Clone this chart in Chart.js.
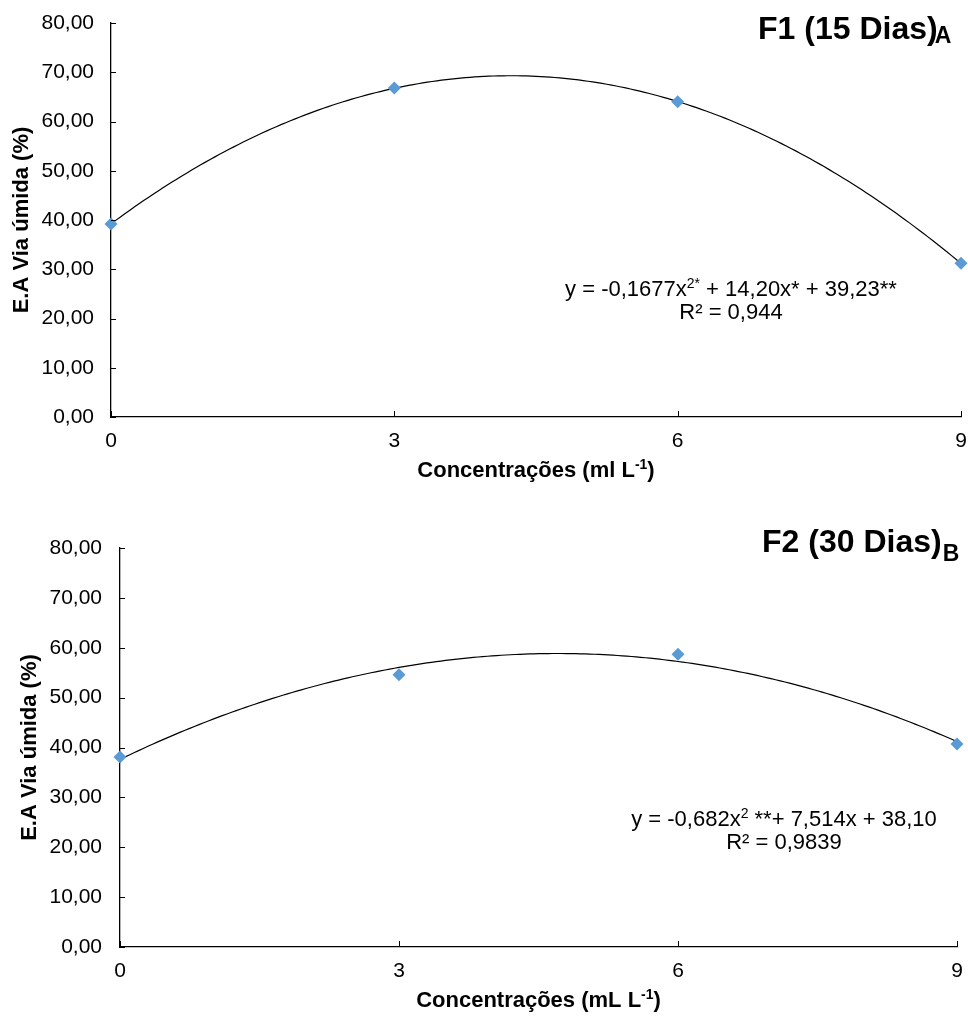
<!DOCTYPE html>
<html>
<head>
<meta charset="utf-8">
<script src="https://cdn.jsdelivr.net/npm/chart.js@4.4.1/dist/chart.umd.min.js"></script>
<style>
  html, body { margin: 0; padding: 0; background: #fff; }
  .panel { position: relative; width: 968px; }
  canvas { display: block; }
</style>
</head>
<body>
<div class="panel" style="height:500px"><canvas id="f1" width="968" height="500"></canvas></div>
<div class="panel" style="height:517px"><canvas id="f2" width="968" height="517"></canvas></div>
<script>
// Concentrations (ml L-1) and measured values for each evaluation
const concentrations = [0, 3, 6, 9];
const f1Values = [39.2, 66.8, 64.0, 31.2];   // F1 (15 Dias)
const f2Values = [38.1, 54.6, 58.7, 40.7];   // F2 (30 Dias)
const yTickValues = [0, 10, 20, 30, 40, 50, 60, 70, 80];
const xTickValues = [0, 3, 6, 9];

const FONT = "'Liberation Sans', Arial, sans-serif";
const MARKER = '#5b9bd5';

// Least-squares second-degree polynomial through the measured points
function quadFit(xs, ys) {
  let s0 = xs.length, s1 = 0, s2 = 0, s3 = 0, s4 = 0, t0 = 0, t1 = 0, t2 = 0;
  xs.forEach((x, i) => {
    const y = ys[i];
    s1 += x; s2 += x * x; s3 += x ** 3; s4 += x ** 4;
    t0 += y; t1 += x * y; t2 += x * x * y;
  });
  const M = [[s4, s3, s2, t2], [s3, s2, s1, t1], [s2, s1, s0, t0]];
  for (let c = 0; c < 3; c++) {
    for (let r = c + 1; r < 3; r++) {
      const f = M[r][c] / M[c][c];
      for (let k = c; k < 4; k++) M[r][k] -= f * M[c][k];
    }
  }
  const sol = [0, 0, 0];
  for (let r = 2; r >= 0; r--) {
    let v = M[r][3];
    for (let k = r + 1; k < 3; k++) v -= M[r][k] * sol[k];
    sol[r] = v / M[r][r];
  }
  return sol; // a, b, c
}

function trendPoints(xs, ys) {
  const [a, b, c] = quadFit(xs, ys);
  const pts = [];
  const lo = Math.min(...xs), hi = Math.max(...xs);
  for (let i = 0; i <= 180; i++) {
    const x = lo + (hi - lo) * i / 180;
    pts.push({ x, y: a * x * x + b * x + c });
  }
  return pts;
}

// Draws a line of text made of runs; run.sup / run.sub shift and shrink it
function drawRuns(ctx, runs, x, y, align, size, bold) {
  const fontFor = r => `${bold ? 'bold ' : ''}${r.sup || r.sub ? Math.round(size * (r.scale || 0.62)) : size}px ${FONT}`;
  let total = 0;
  runs.forEach(r => { ctx.font = fontFor(r); total += ctx.measureText(r.t).width + (r.dx || 0); });
  let cx = align === 'center' ? x - total / 2 : (align === 'right' ? x - total : x);
  ctx.textAlign = 'left';
  ctx.textBaseline = 'alphabetic';
  runs.forEach(r => {
    ctx.font = fontFor(r);
    cx += (r.dx || 0);
    const dy = r.sup ? -size * 0.38 : (r.sub ? size * (r.subDy || 0.22) : 0);
    ctx.fillText(r.t, cx, y + dy);
    cx += ctx.measureText(r.t).width;
  });
}

function makeChart(id, values, cfg) {
  const annotate = {
    id: 'annotate' + id,
    afterDraw(chart) {
      const ctx = chart.ctx;
      const xs = chart.scales.x, ys = chart.scales.y;
      ctx.save();
      ctx.strokeStyle = '#000';
      ctx.lineWidth = 1;
      // inner tick marks
      yTickValues.forEach(v => {
        const py = Math.round(ys.getPixelForValue(v)) + 0.5;
        ctx.beginPath(); ctx.moveTo(xs.left, py); ctx.lineTo(xs.left + 5, py); ctx.stroke();
      });
      xTickValues.forEach(v => {
        const px = Math.round(xs.getPixelForValue(v)) + 0.5;
        ctx.beginPath(); ctx.moveTo(px, ys.bottom); ctx.lineTo(px, ys.bottom - 6); ctx.stroke();
      });
      ctx.fillStyle = '#000';
      // y axis title
      ctx.save();
      ctx.translate(cfg.yTitleX, (ys.top + ys.bottom) / 2);
      ctx.rotate(-Math.PI / 2);
      ctx.font = `bold 22px ${FONT}`;
      ctx.textAlign = 'center';
      ctx.textBaseline = 'middle';
      ctx.fillText('E.A Via úmida (%)', 0, 0);
      ctx.restore();
      // x axis title
      drawRuns(ctx, cfg.xTitle, (xs.left + xs.right) / 2, ys.bottom + cfg.xTitleDy, 'center', 22, true);
      // panel title
      drawRuns(ctx, cfg.title, cfg.titleX, cfg.titleY, 'left', 32, true);
      // regression equation and R²
      drawRuns(ctx, cfg.eq, cfg.eqX, cfg.eqY, 'center', 22, false);
      drawRuns(ctx, cfg.r2, cfg.eqX, cfg.eqY + 23, 'center', 22, false);
      ctx.restore();
    }
  };

  return new Chart(document.getElementById(id), {
    type: 'scatter',
    data: {
      datasets: [
        {
          type: 'line',
          data: trendPoints(concentrations, values),
          borderColor: '#000',
          borderWidth: 1.2,
          pointRadius: 0,
          tension: 0,
          fill: false,
          clip: false,
          order: 2
        },
        {
          data: concentrations.map((x, i) => ({ x, y: values[i] })),
          pointStyle: 'rectRot',
          pointRadius: 6.5,
          backgroundColor: MARKER,
          borderColor: MARKER,
          borderWidth: 0,
          clip: false,
          order: 1
        }
      ]
    },
    options: {
      responsive: false,
      animation: false,
      devicePixelRatio: 1,
      layout: { padding: { left: 0, top: cfg.top, right: cfg.right, bottom: 0 } },
      plugins: { legend: { display: false }, tooltip: { enabled: false } },
      scales: {
        x: {
          type: 'linear', min: 0, max: 9,
          afterFit(s) {
            s.height = cfg.height - cfg.bottom;
            s.paddingLeft = 0; s.paddingRight = 0;
          },
          afterBuildTicks(s) { s.ticks = xTickValues.map(v => ({ value: v })); },
          grid: { display: false, drawTicks: false },
          border: { display: true, color: '#000', width: 1.3 },
          ticks: { color: '#000', padding: 12, font: { family: FONT, size: 21 }, callback: v => String(v) }
        },
        y: {
          type: 'linear', min: 0, max: 80,
          afterFit(s) {
            s.width = cfg.left;
            s.paddingTop = 0; s.paddingBottom = 0;
          },
          afterBuildTicks(s) { s.ticks = yTickValues.map(v => ({ value: v })); },
          grid: { display: false, drawTicks: false },
          border: { display: true, color: '#000', width: 1.3 },
          ticks: { color: '#000', padding: cfg.yPad, font: { family: FONT, size: 21 },
                   callback: v => Number(v).toFixed(2).replace('.', ',') }
        }
      }
    },
    plugins: [annotate]
  });
}

makeChart('f1', f1Values, {
  height: 500, left: 111, top: 23, right: 7, bottom: 417, yPad: 17,
  yTitleX: 22, xTitleDy: 60,
  xTitle: [{ t: 'Concentrações (ml L' }, { t: '-1', sup: true }, { t: ')' }],
  title: [{ t: 'F1 (15 Dias)' }, { t: 'A', sub: true, scale: 0.72, dx: -3, subDy: 0.14 }],
  titleX: 758, titleY: 39,
  eq: [{ t: 'y = -0,1677x' }, { t: '2*', sup: true }, { t: ' + 14,20x* + 39,23**' }],
  r2: [{ t: 'R² = 0,944' }],
  eqX: 731, eqY: 296
});

makeChart('f2', f2Values, {
  height: 517, left: 120, top: 48, right: 11, bottom: 447, yPad: 18,
  yTitleX: 30, xTitleDy: 60,
  xTitle: [{ t: 'Concentrações (mL L' }, { t: '-1', sup: true }, { t: ')' }],
  title: [{ t: 'F2 (30 Dias)' }, { t: 'B', sub: true, scale: 0.72, dx: 1, subDy: 0.28 }],
  titleX: 762, titleY: 52,
  eq: [{ t: 'y = -0,682x' }, { t: '2', sup: true }, { t: ' **+ 7,514x + 38,10' }],
  r2: [{ t: 'R² = 0,9839' }],
  eqX: 784, eqY: 326
});
</script>
</body>
</html>
